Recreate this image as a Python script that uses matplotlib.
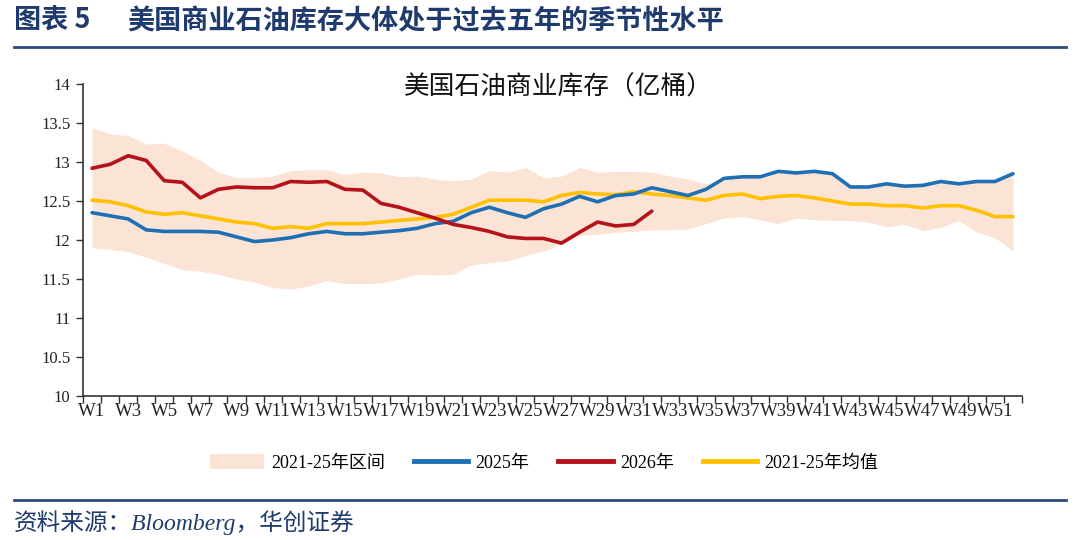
import numpy as np
import matplotlib
matplotlib.use("Agg")
import matplotlib.pyplot as plt
from matplotlib.patches import Patch
from matplotlib.lines import Line2D

weeks = [f"W{i}" for i in range(1, 53)]

band_upper = [13.44, 13.36, 13.34, 13.23, 13.24, 13.14, 13.02, 12.87, 12.80, 12.80,
              12.82, 12.89, 12.90, 12.90, 12.84, 12.87, 12.86, 12.81, 12.82, 12.78,
              12.76, 12.78, 12.89, 12.87, 12.93, 12.80, 12.82, 12.93, 12.87, 12.88,
              12.88, 12.87, 12.82, 12.78, 12.72, 12.79, 12.81, 12.81, 12.88, 12.86,
              12.88, 12.85, 12.68, 12.68, 12.72, 12.69, 12.70, 12.75, 12.72, 12.75,
              12.75, 12.85]
band_lower = [11.90, 11.88, 11.85, 11.78, 11.70, 11.62, 11.60, 11.56, 11.50, 11.46,
              11.39, 11.37, 11.41, 11.48, 11.44, 11.44, 11.45, 11.50, 11.56, 11.55,
              11.56, 11.68, 11.71, 11.73, 11.80, 11.86, 11.95, 12.06, 12.07, 12.10,
              12.11, 12.13, 12.13, 12.14, 12.21, 12.28, 12.30, 12.26, 12.21, 12.28,
              12.26, 12.25, 12.25, 12.23, 12.17, 12.20, 12.12, 12.16, 12.25, 12.10,
              12.03, 11.86]
y2025 = [12.35, 12.31, 12.27, 12.13, 12.11, 12.11, 12.11, 12.10, 12.04, 11.98,
         12.00, 12.03, 12.08, 12.11, 12.08, 12.08, 12.10, 12.12, 12.15, 12.21,
         12.24, 12.35, 12.42, 12.35, 12.29, 12.40, 12.46, 12.56, 12.49, 12.57,
         12.59, 12.67, 12.62, 12.57, 12.65, 12.79, 12.81, 12.81, 12.88, 12.86,
         12.88, 12.85, 12.68, 12.68, 12.72, 12.69, 12.70, 12.75, 12.72, 12.75,
         12.75, 12.85]
y2026 = [12.92, 12.97, 13.08, 13.02, 12.76, 12.74, 12.54, 12.65, 12.68, 12.67,
         12.67, 12.75, 12.74, 12.75, 12.65, 12.64, 12.47, 12.42, 12.35, 12.28,
         12.20, 12.16, 12.11, 12.04, 12.02, 12.02, 11.96, 12.10, 12.23, 12.18,
         12.20, 12.37]
avg_2125 = [12.51, 12.49, 12.44, 12.36, 12.33, 12.35, 12.31, 12.27, 12.23, 12.21,
            12.15, 12.17, 12.15, 12.21, 12.21, 12.21, 12.23, 12.25, 12.27, 12.29,
            12.33, 12.42, 12.51, 12.51, 12.51, 12.49, 12.57, 12.61, 12.59, 12.58,
            12.62, 12.59, 12.57, 12.54, 12.51, 12.57, 12.59, 12.53, 12.56, 12.57,
            12.54, 12.50, 12.46, 12.46, 12.44, 12.44, 12.41, 12.44, 12.44, 12.38,
            12.30, 12.30]

yticks = [10, 10.5, 11, 11.5, 12, 12.5, 13, 13.5, 14]
ytick_labels = ["10", "10.5", "11", "11.5", "12", "12.5", "13", "13.5", "14"]

labels = ["2021-25年区间", "2025年", "2026年", "2021-25年均值"]
header_num = "图表 5"
header = "美国商业石油库存大体处于过去五年的季节性水平"
chart_title = "美国石油商业库存（亿桶）"
source = "资料来源：Bloomberg，华创证券"

C_BAND = "#FBE4D6"
C_BLUE = "#1F6FB4"
C_RED = "#B5121B"
C_YEL = "#FFC000"
C_NAVY = "#1F3B6E"

SERIF = ["Liberation Serif", "Noto Sans CJK SC"]
CJK = ["Noto Sans CJK SC", "DejaVu Sans"]

fig = plt.figure(figsize=(10.8, 5.4), dpi=100)
ax = fig.add_axes([83 / 1080, 1 - 396 / 540, (1022 - 83) / 1080, (396 - 84) / 540])

x = np.arange(len(weeks))
ax.fill_between(x, band_lower, band_upper, color=C_BAND, linewidth=0, zorder=1)
ax.plot(x, y2025, color=C_BLUE, lw=2.6, zorder=3, solid_capstyle="round")
ax.plot(x[:len(y2026)], y2026, color=C_RED, lw=2.6, zorder=4, solid_capstyle="round")
ax.plot(x, avg_2125, color=C_YEL, lw=2.6, zorder=2, solid_capstyle="round")

ax.set_xlim(-0.5, len(weeks) - 0.5)
ax.set_ylim(10, 14)
ax.set_yticks(yticks)
ax.set_yticklabels(ytick_labels, family=SERIF, fontsize=12, color="#222222")
ax.set_xticks(np.arange(-0.5, len(weeks), 1))
ax.set_xticklabels([])
ax.set_xticks(x[::2], minor=True)
ax.set_xticklabels(weeks[::2], minor=True, family=SERIF, fontsize=13.5, color="#222222")
ax.tick_params(axis="x", which="major", length=5, width=1, color="#333333", direction="out")
ax.tick_params(axis="x", which="minor", length=0, pad=5)
ax.tick_params(axis="y", length=5, width=1, color="#333333", pad=4)
for s in ["top", "right"]:
    ax.spines[s].set_visible(False)
for s in ["left", "bottom"]:
    ax.spines[s].set_color("#333333")
    ax.spines[s].set_linewidth(1.2)

fig.text(558 / 1080, 1 - 88 / 540, chart_title, family=CJK, fontsize=18.5,
         ha="center", va="center", color="#111111")

handles = [Patch(facecolor=C_BAND, edgecolor="none"),
           Line2D([], [], color=C_BLUE, lw=3.5),
           Line2D([], [], color=C_RED, lw=3.5),
           Line2D([], [], color=C_YEL, lw=3.5)]
fig.legend(handles, labels, loc="center", bbox_to_anchor=(544 / 1080, 1 - 463 / 540),
           ncol=4, frameon=False, prop={"family": SERIF, "size": 13},
           handlelength=3.0, handleheight=0.9, handletextpad=0.4, columnspacing=1.6)

fig.text(14 / 1080, 1 - 21 / 540, header_num, family=CJK, fontsize=19.5, fontweight="bold",
         ha="left", va="center", color=C_NAVY)
fig.text(127 / 1080, 1 - 21 / 540, header, family=CJK, fontsize=19.5, fontweight="bold",
         ha="left", va="center", color=C_NAVY)
fig.add_artist(Line2D([14 / 1080, 1066 / 1080], [1 - 47 / 540, 1 - 47 / 540],
                      color="#2D4A7C", lw=2))
fig.add_artist(Line2D([14 / 1080, 1066 / 1080], [1 - 500 / 540, 1 - 500 / 540],
                      color="#2D4A7C", lw=2))
fig.text(14 / 1080, 1 - 523 / 540, source, family=SERIF, style="italic", fontsize=17,
         ha="left", va="center", color=C_NAVY)

fig.savefig("out.png", dpi=100, facecolor="white")
